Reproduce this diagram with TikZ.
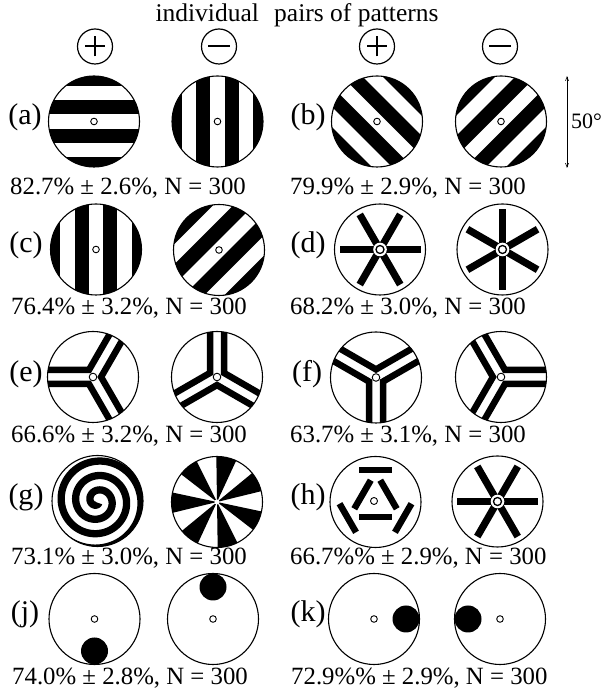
\documentclass[tikz,border=0pt]{standalone}
\usepackage{fontspec}
\setmainfont{Liberation Serif}
\usetikzlibrary{arrows.meta}

\tikzset{
  rim/.style={draw=black, line width=1.1pt},
  ringdot/.style={draw=black, fill=white, line width=0.9pt},
  lab/.style={font=\fontsize{30}{30}\selectfont, inner sep=0pt},
  stat/.style={font=\fontsize{24.8}{25}\selectfont, inner sep=0pt, anchor=base west},
  sign/.style={draw=black, line width=1.2pt},
  signbar/.style={line width=2pt},
}

% striped disc: x, y, rotation
\newcommand{\stripedisc}[3]{%
  \begin{scope}
    \clip (#1,#2) circle (45.5);
    \begin{scope}[shift={(#1,#2)}, rotate=#3]
      \foreach \k in {-3,-1,1,3} {\fill (-60,{\k*14.3-7.15}) rectangle (60,{\k*14.3+7.15});}
    \end{scope}
  \end{scope}
  \draw[rim] (#1,#2) circle (45.5);
  \draw[ringdot] (#1,#2) circle (3.3);
}

% six-spoke star: x, y, angle offset
\newcommand{\stardisc}[3]{%
  \foreach \a in {0,60,...,300} {\draw[line width=7.2pt] (#1,#2) -- ++({\a+#3}:40.5);}
  \fill[white] (#1,#2) circle (6.8);
  \draw[line width=1.3pt, fill=white] (#1,#2) circle (4);
  \draw[rim] (#1,#2) circle (45.5);
}

% three double-line arms: x, y, list of start angles
\newcommand{\chevdisc}[3]{%
  \begin{scope}
    \clip (#1,#2) circle (45.5);
    \foreach \t in {#3} {
      \begin{scope}[shift={(#1,#2)}, rotate=\t]
        \draw[line width=6.5pt, miter limit=10] (60,7) -- (4.041,7) -- (-23.94,55.46);
      \end{scope}
    }
  \end{scope}
  \draw[rim] (#1,#2) circle (45.5);
  \draw[ringdot] (#1,#2) circle (3.8);
}

% empty disc with black blob: x, y, blob direction
\newcommand{\blobdisc}[3]{%
  \fill (#1,#2) ++(#3:32) circle (13.5);
  \draw[rim] (#1,#2) circle (45.5);
  \draw[ringdot] (#1,#2) circle (3.3);
}

\begin{document}
\begin{tikzpicture}[x=1pt, y=1pt]
\useasboundingbox (0,0) rectangle (604,692);
\fill[white] (0,0) rectangle (604,692);

% title
\node[font=\fontsize{25.5}{26}\selectfont, inner sep=0pt, anchor=base] (title) at (297,670) {individual\hspace{0.6em}pairs of patterns};

% plus / minus signs
\foreach \x in {95, 219, 377, 500} {
  \draw[sign] (\x,645.5) circle (17.5);
}
\draw[signbar] (85,645.5) -- (105,645.5) (95,635.5) -- (95,655.5);
\draw[signbar] (208,645.5) -- (230,645.5);
\draw[signbar] (367,645.5) -- (387,645.5) (377,635.5) -- (377,655.5);
\draw[signbar] (489,645.5) -- (511,645.5);

% 50 degree arrow
\coordinate (atop) at (567,616);
\coordinate (abot) at (567,524);
\draw[line width=0.6pt, {Straight Barb[length=4pt,width=3pt]}-{Straight Barb[length=4pt,width=3pt]}] (atop) -- (abot);
\node[font=\fontsize{22}{22}\selectfont, inner sep=0pt, anchor=west] (deg) at (571,571) {50°};

% row a / b
\node[lab] (la) at (25,575) {(a)};
\stripedisc{94}{570.5}{0}
\stripedisc{217.5}{570.5}{90}
\node[lab] (lb) at (308,575) {(b)};
\stripedisc{377}{570.5}{-45}
\stripedisc{501}{570.5}{45}
\node[stat] (sa) at (10,497) {82.7\% ± 2.6\%, N = 300};
\node[stat] (sb) at (290,497) {79.9\% ± 2.9\%, N = 300};

% row c / d
\node[lab] (lc) at (26,447) {(c)};
\stripedisc{96}{442.5}{90}
\stripedisc{219}{442}{45}
\node[lab] (ld) at (308,447) {(d)};
\stardisc{380}{442.5}{0}
\stardisc{502.5}{442.5}{30}
\node[stat] (sc) at (11,377) {76.4\% ± 3.2\%, N = 300};
\node[stat] (sd) at (290,377) {68.2\% ± 3.0\%, N = 300};

% row e / f
\node[lab] (le) at (26,318) {(e)};
\chevdisc{93}{315}{60,180,300}
\chevdisc{217}{315}{90,210,330}
\node[lab] (lf) at (307,318) {(f)};
\chevdisc{376}{314.5}{30,150,270}
\chevdisc{501}{315}{0,120,240}
\node[stat] (se) at (11,249) {66.6\% ± 3.2\%, N = 300};
\node[stat] (sf) at (290,249) {63.7\% ± 3.1\%, N = 300};

% row g / h
\node[lab] (lg) at (26,195) {(g)};
\begin{scope}
  \clip (97.5,191) circle (45.5);
  \draw[line width=7.3pt] plot[domain=60:1560, samples=400, smooth, variable=\t]
    ({97.5 + \t/360*14.5*cos(-\t)}, {191 + \t/360*14.5*sin(-\t)});
\end{scope}
\draw[rim] (97.5,191) circle (45.5);
\begin{scope}
  \clip (217,190) circle (45.5);
  \foreach \i in {0,...,6} {
    \begin{scope}[shift={(217,190)}, rotate={65.14+\i*51.43}]
      \fill (0,0) -- (55,0) -- (25.71:55) -- cycle;
    \end{scope}
  }
\end{scope}
\fill[white] (217,190) circle (2.5);
\draw[rim] (217,190) circle (45.5);
\node[lab] (lh) at (308,195) {(h)};
\foreach \a/\r in {270/15, 30/15, 150/15, 90/32, 210/32, 330/32} {
  \begin{scope}[shift={(375.5,190)}, rotate=\a]
    \fill (\r-3.25,-16.5) rectangle (\r+3.25,16.5);
  \end{scope}
}
\draw[rim] (375.5,190) circle (45.5);
\draw[ringdot] (374,191) circle (3.5);
\stardisc{497.5}{190.5}{0}
\node[stat] (sg) at (11,127) {73.1\% ± 3.0\%, N = 300};
\node[stat] (sh) at (290,127) {66.7\%\% ± 2.9\%, N = 300};

% row j / k
\node[lab] (lj) at (25,78) {(j)};
\blobdisc{94.5}{73}{270}
\blobdisc{213}{73}{90}
\node[lab] (lk) at (308,78) {(k)};
\blobdisc{374}{73}{0}
\blobdisc{500}{73}{180}
\node[stat] (sj) at (12,7) {74.0\% ± 2.8\%, N = 300};
\node[stat] (sk) at (291,7) {72.9\%\% ± 2.9\%, N = 300};
\end{tikzpicture}
\end{document}
